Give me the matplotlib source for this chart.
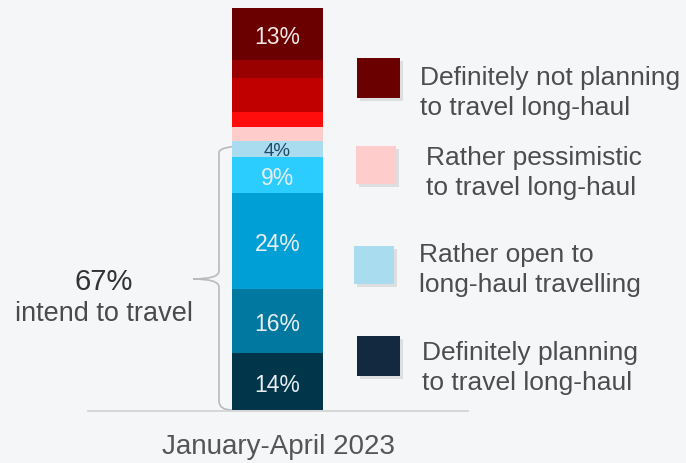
import matplotlib.pyplot as plt
import matplotlib.patheffects as pe
from matplotlib.patches import Rectangle
from matplotlib.path import Path
from matplotlib.patches import PathPatch

plt.rcParams['font.family'] = ['Liberation Sans', 'DejaVu Sans']

# segments from bottom to top (percent)
valores = [14, 16, 24, 9, 4, 3.5, 3.5, 8.5, 4.5, 13]
cores = ['#00354a', '#0078a0', '#00a0d6', '#2bcdff', '#a8dcee',
         '#ffcccc', '#ff0d0d', '#c00000', '#990000', '#6b0000']
rotulos = ['14%', '16%', '24%', '9%', '4%', '', '', '', '', '13%']
cor_rotulo = ['#e8eef2'] * 4 + ['#24496e'] + [''] * 4 + ['#f2e6e6']
tam_rotulo = [16.5, 16.5, 16.5, 16.5, 13.5, 0, 0, 0, 0, 16.5]

legenda_txt = ['Definitely not planning\nto travel long-haul',
               'Rather pessimistic\nto travel long-haul',
               'Rather open to\nlong-haul travelling',
               'Definitely planning\nto travel long-haul']
legenda_cor = ['#6b0000', '#ffcccc', '#a8dcee', '#12293f']

total_txt = '67%'
total_sub = 'intend to travel'
periodo = 'January-April 2023'

W, H = 686, 464
fig = plt.figure(figsize=(W / 100, H / 100), dpi=100)
fig.patch.set_facecolor('#f4f6f8')

# overlay in pixel units for decorations
fundo = fig.add_axes([0, 0, 1, 1])
fundo.set_xlim(0, W)
fundo.set_ylim(H, 0)
fundo.axis('off')

# baseline
fundo.plot([88, 468], [412, 412], color='#d2d4d6', lw=1.3)

# curly brace
verts = [(247, 147), (221, 147), (219, 153),
         (219, 272), (219, 280), (193, 280),
         (219, 280), (219, 288),
         (219, 402), (219, 411), (232, 411)]
codes = [Path.MOVETO, Path.CURVE3, Path.CURVE3,
         Path.LINETO, Path.CURVE3, Path.CURVE3,
         Path.CURVE3, Path.CURVE3,
         Path.LINETO, Path.CURVE3, Path.CURVE3]
fundo.add_patch(PathPatch(Path(verts, codes), fill=False, ec='#b8babc', lw=1.2))

fundo.text(104, 282, total_txt, ha='center', va='center', fontsize=21, color='#333333')
fundo.text(104, 314, total_sub, ha='center', va='center', fontsize=19.5, color='#4a4a4a')
fundo.text(278, 447, periodo, ha='center', va='center', fontsize=20, color='#555555')

# legend
caixas = [(357, 59, 43, 40), (356, 147, 40, 38), (354, 247, 40, 38), (357, 337, 43, 40)]
texto_pos = [(420, 93), (426, 173), (419, 270), (422, 368)]
sombra = [pe.SimplePatchShadow(offset=(2.5, -2.5), shadow_rgbFace='#9a9a9a', alpha=0.25), pe.Normal()]
for (x, y, w, h), c, t, (tx, ty) in zip(caixas, legenda_cor, legenda_txt, texto_pos):
    r = Rectangle((x, y), w, h, facecolor=c, edgecolor='none', path_effects=sombra)
    fundo.add_patch(r)
    fundo.text(tx, ty, t, ha='left', va='center', fontsize=19, color='#4d4d4d',
               linespacing=1.32)

# stacked bar
ax = fig.add_axes([232 / W, (H - 410.7) / H, 91 / W, 401.7 / H])
ax.set_xlim(-0.5, 0.5)
ax.set_ylim(0, 100)
ax.axis('off')
base = 0
for v, c, rot, rc, fs in zip(valores, cores, rotulos, cor_rotulo, tam_rotulo):
    ax.bar(0, v, width=1, bottom=base, color=c, edgecolor='none')
    if rot:
        ax.text(0, base + v / 2, rot, ha='center', va='center_baseline',
                fontsize=fs, color=rc)
    base += v

fig.savefig('out.png', dpi=100, facecolor=fig.get_facecolor())
